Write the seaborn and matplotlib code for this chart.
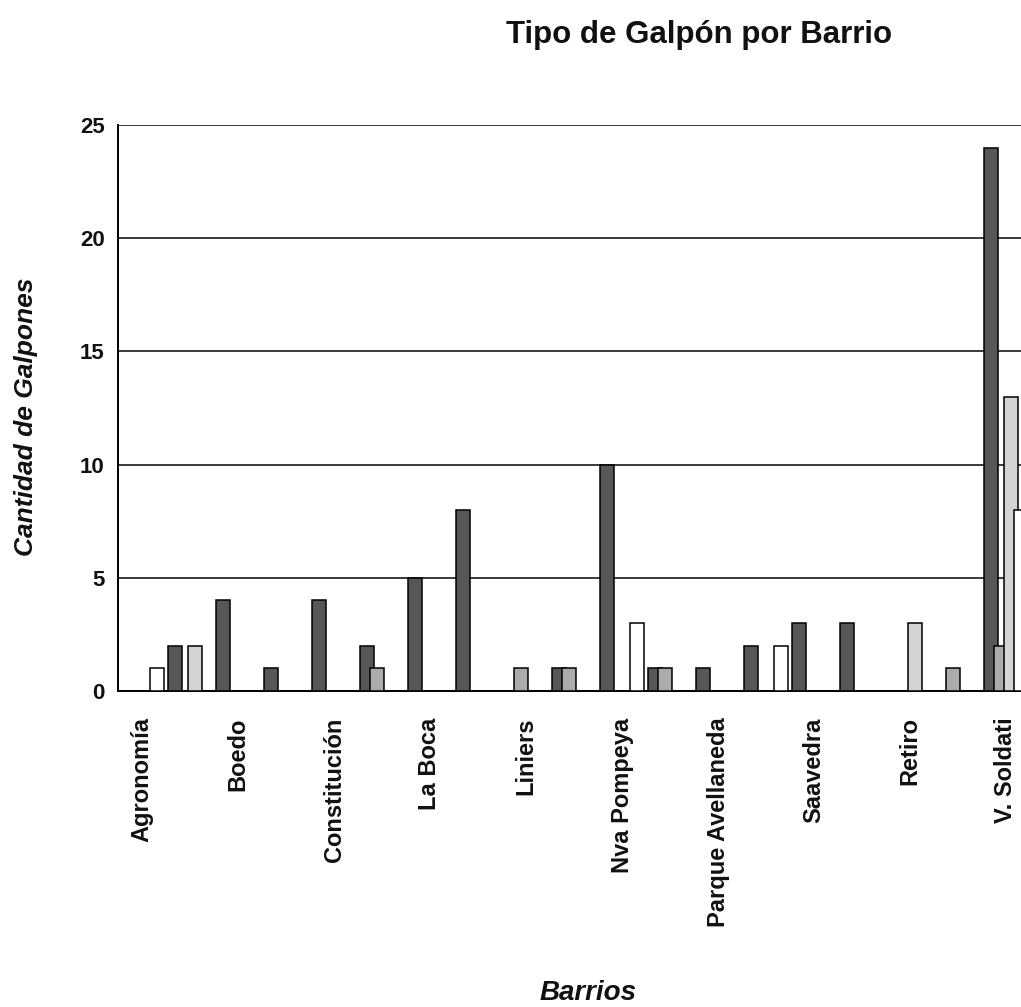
import matplotlib
matplotlib.use("Agg")
import matplotlib.pyplot as plt
import seaborn as sns
import pandas as pd
from matplotlib.ticker import FixedLocator

# ---- data ----
barrios = ["Agronomía", "Barracas", "Boedo", "Caballito", "Constitución",
           "Flores", "La Boca", "La Paternal", "Liniers", "Mataderos",
           "Nva Pompeya", "Palermo", "Parque Avellaneda", "Parque Patricios",
           "Saavedra", "San Telmo", "Retiro", "V. Lugano", "V. Soldati"]
tipos = ["Tipo 1", "Tipo 2", "Tipo 3", "Tipo 4"]
tipo_1 = [0, 2, 4, 1, 4, 2, 5, 8, 0, 1, 10, 1, 1, 2, 3, 3, 0, 0, 24]
tipo_2 = [0, 0, 0, 0, 0, 1, 0, 0, 1, 1, 0, 1, 0, 0, 0, 0, 0, 1, 2]
tipo_3 = [0, 2, 0, 0, 0, 0, 0, 0, 0, 0, 0, 0, 0, 0, 0, 0, 3, 0, 13]
tipo_4 = [1, 0, 0, 0, 0, 0, 0, 0, 0, 0, 3, 0, 0, 2, 0, 0, 0, 0, 8]
y_ticks = [0, 5, 10, 15, 20, 25]
colores = ["#575757", "#ababab", "#d4d4d4", "#ffffff"]

titulo = "Tipo de Galpón por Barrio"
eje_x = "Barrios"
eje_y = "Cantidad de Galpones"

rows = []
for tipo, vals in zip(tipos, [tipo_1, tipo_2, tipo_3, tipo_4]):
    for b, v in zip(barrios, vals):
        if v > 0:
            rows.append({"barrio": b, "tipo": tipo, "cantidad": v})
df = pd.DataFrame(rows)

sns.set_style("white")
plt.rcParams["font.family"] = ["Liberation Sans", "DejaVu Sans"]
plt.rcParams["text.color"] = "#111111"
plt.rcParams["xtick.color"] = "#111111"
plt.rcParams["ytick.color"] = "#111111"

W, H = 1021, 1007
fig = plt.figure(figsize=(W / 100, H / 100), dpi=100)
x0, x1, y0, y1 = 118, 118 + 19 * 48.0, 691, 125
ax = fig.add_axes([x0 / W, (H - y0) / H, (x1 - x0) / W, (y0 - y1) / H])

sns.barplot(data=df, x="barrio", y="cantidad", hue="tipo", order=barrios,
            hue_order=tipos, palette=dict(zip(tipos, colores)),
            width=0.83, dodge=True, edgecolor="black", linewidth=1.1,
            errorbar=None, legend=False, ax=ax, zorder=3)

# Excel-style overlapping bars
bw = 0.275
for p in ax.patches:
    cx = p.get_x() + p.get_width() / 2
    p.set_width(bw)
    p.set_x(cx - bw / 2)

ax.set_xlim(-0.5, len(barrios) - 0.5)
ax.set_ylim(0, 25)

ax.set_axisbelow(True)
ax.yaxis.grid(True, color="#2a2a2a", linewidth=1.3)
ax.xaxis.grid(False)
for s in ["top", "right"]:
    ax.spines[s].set_visible(False)
for s in ["left", "bottom"]:
    ax.spines[s].set_color("black")
    ax.spines[s].set_linewidth(1.4)

ax.set_yticks(y_ticks)
ax.set_yticklabels([str(v) for v in y_ticks], fontsize=16, fontweight="bold",
                   color="#111111")
ax.tick_params(axis="y", direction="inout", length=9, width=1.1, pad=5,
               colors="#111111")

major = list(range(0, len(barrios), 2))
ax.set_xticks(major)
ax.set_xticklabels([barrios[i] for i in major], rotation=90, fontsize=17,
                   fontweight="bold", ha="center", va="top", color="#111111")
ax.xaxis.set_minor_locator(FixedLocator([i - 0.5 for i in range(len(barrios) + 1)]))
ax.tick_params(axis="x", which="major", length=0, pad=19)
ax.tick_params(axis="x", which="minor", direction="out", length=6, width=1.1,
               colors="black")

ax.set_xlabel("")
ax.set_ylabel("")
fig.text(588 / W, 1 - 1006 / H, eje_x, fontsize=20, fontweight="bold",
         fontstyle="italic", ha="center", va="bottom")
fig.text(26 / W, 1 - 417 / H, eje_y, fontsize=19, fontweight="bold",
         fontstyle="italic", rotation=90, ha="center", va="center")
fig.text(699 / W, 1 - 43 / H, titulo, fontsize=22.5, fontweight="bold",
         ha="center", va="baseline")

fig.savefig("out.png", dpi=100)
